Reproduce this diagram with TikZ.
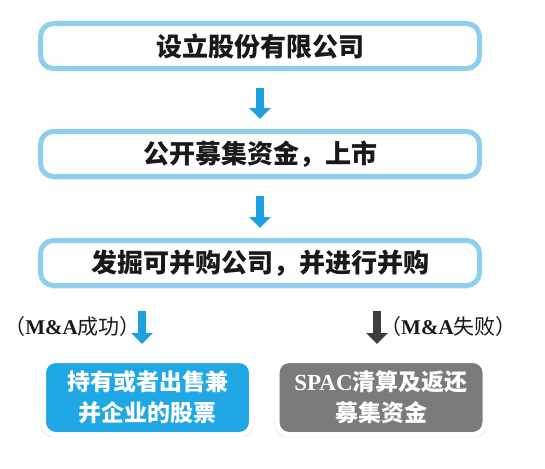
\documentclass[tikz,border=0pt]{standalone}
\usepackage{fontspec}
\setmainfont{Liberation Serif}
\newfontfamily\cjk{Noto Sans CJK SC}
\newfontfamily\lat{Liberation Serif}
\usetikzlibrary{arrows.meta}
\usetikzlibrary{shadows}
\definecolor{lightblue}{HTML}{8ECFF0}
\definecolor{boxblue}{HTML}{1FA7E6}
\definecolor{arrowblue}{HTML}{1E9FDF}
\definecolor{boxgray}{HTML}{7B7B7B}
\definecolor{arrowgray}{HTML}{3D3D3D}
\begin{document}
\begin{tikzpicture}[x=1pt,y=-1pt]
\tikzset{stepbox/.style = {shape=rectangle, rounded corners=13pt, draw=lightblue, line width=5pt, fill=white, minimum width=439pt, minimum height=45pt, text=black!90, font=\cjk\bfseries\fontsize{26}{30}\selectfont, drop shadow={shadow xshift=0pt, shadow yshift=-3pt, fill=black!30, opacity=.25}}}
\tikzset{endbox/.style = {shape=rectangle, rounded corners=12pt, draw=white, line width=5pt, minimum width=208pt, minimum height=74pt, text=white, align=center, font=\cjk\bfseries\fontsize{23}{31}\selectfont, drop shadow={shadow scale=1.025, shadow xshift=0pt, shadow yshift=-2pt, fill=black!30, opacity=.25}}}
\tikzset{down/.style = {line width=8pt, -{Triangle[width=21pt,length=11pt]}}}
\tikzset{casetext/.style = {inner sep=0pt, text=black!90, font=\cjk\fontsize{21}{25}\selectfont}}
\useasboundingbox (0,0) rectangle (545,468);
\node[stepbox](found) at (260, 46) {设立股份有限公司};
\node[stepbox](ipo) at (260, 154) {公开募集资金，上市};
\node[stepbox](merge) at (260, 263) {发掘可并购公司，并进行并购};
\node[endbox, fill=boxblue](hold) at (147.5, 397.5) {持有或者出售兼\\并企业的股票};
\node[endbox, fill=boxgray](refund) at (381, 397.5) {{\lat SPAC}清算及返还\\募集资金};
\node[casetext, anchor=east](okcase) at (141, 327) {（{\lat\bfseries M\&A}成功）};
\node[casetext, anchor=west](failcase) at (380, 327) {（{\lat\bfseries M\&A}失败）};
\draw[down, arrowblue, shorten <=17pt, shorten >=10pt] (found.south) -- (ipo.north);
\draw[down, arrowblue, shorten <=17pt, shorten >=10pt] (ipo.south) -- (merge.north);
\draw[down, arrowblue, shorten <=23pt, shorten >=14pt] ([xshift=-118pt]merge.south) -- ([xshift=-118pt]merge.south |- hold.north);
\draw[down, arrowgray, shorten <=23pt, shorten >=14pt] ([xshift=117pt]merge.south) -- ([xshift=117pt]merge.south |- refund.north);
\end{tikzpicture}
\end{document}
